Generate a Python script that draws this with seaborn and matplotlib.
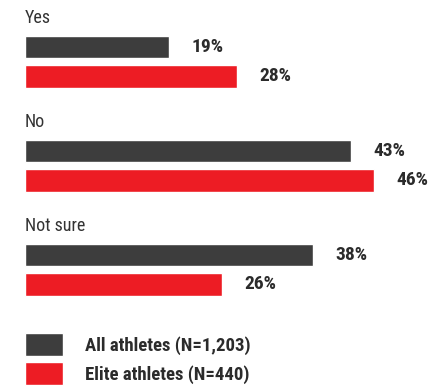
import matplotlib
matplotlib.use("Agg")
import matplotlib.pyplot as plt
import seaborn as sns
import pandas as pd

categories = ["Yes", "No", "Not sure"]
groups = ["All athletes (N=1,203)", "Elite athletes (N=440)"]
all_values = [19, 43, 38]
elite_values = [28, 46, 26]
colors = ["#3d3d3d", "#ed1c24"]

df = pd.DataFrame({
    "category": categories * 2,
    "group": [groups[0]] * 3 + [groups[1]] * 3,
    "value": all_values + elite_values,
})

sns.set_theme(style="white")
plt.rcParams["font.family"] = ["Roboto Condensed", "Liberation Sans Narrow", "Roboto", "DejaVu Sans"]

fig = plt.figure(figsize=(4.32, 3.89), dpi=100)
ax = fig.add_axes([0, 0, 1, 1])
sns.barplot(data=df, y="category", x="value", hue="group", order=categories,
            hue_order=groups, palette=colors, orient="h", width=0.558, gap=0.225,
            saturation=1, ax=ax, legend=True)

for c in ax.containers:
    ax.bar_label(c, fmt="%g%%", padding=16, fontsize=14, fontweight="bold",
                 color="#2b2b2b")

for i, cat in enumerate(categories):
    ax.text(0, i - 0.42, cat, ha="left", va="center", fontsize=13, color="#333333")

ax.set_xlim(-25 / 7.58, (432 - 25) / 7.58)
ax.set_ylim((389 - 61.75) / 104, -61.75 / 104)
ax.axis("off")

fs = 13.5
fpx = fs * 100 / 72
hh = (23 / fpx - 0.245) / 0.65
handles, labels = ax.get_legend_handles_labels()
ax.get_legend().remove()
fig.legend(handles, labels, loc="upper left", bbox_to_anchor=(25 / 432, 1 - 333 / 389),
           frameon=False, prop={"weight": "bold", "size": fs},
           handlelength=38 / fpx, handleheight=hh,
           handletextpad=22 / fpx,
           labelspacing=6 / fpx, borderpad=0, borderaxespad=0,
           labelcolor="#2b2b2b")

fig.savefig("out.png", dpi=100)
